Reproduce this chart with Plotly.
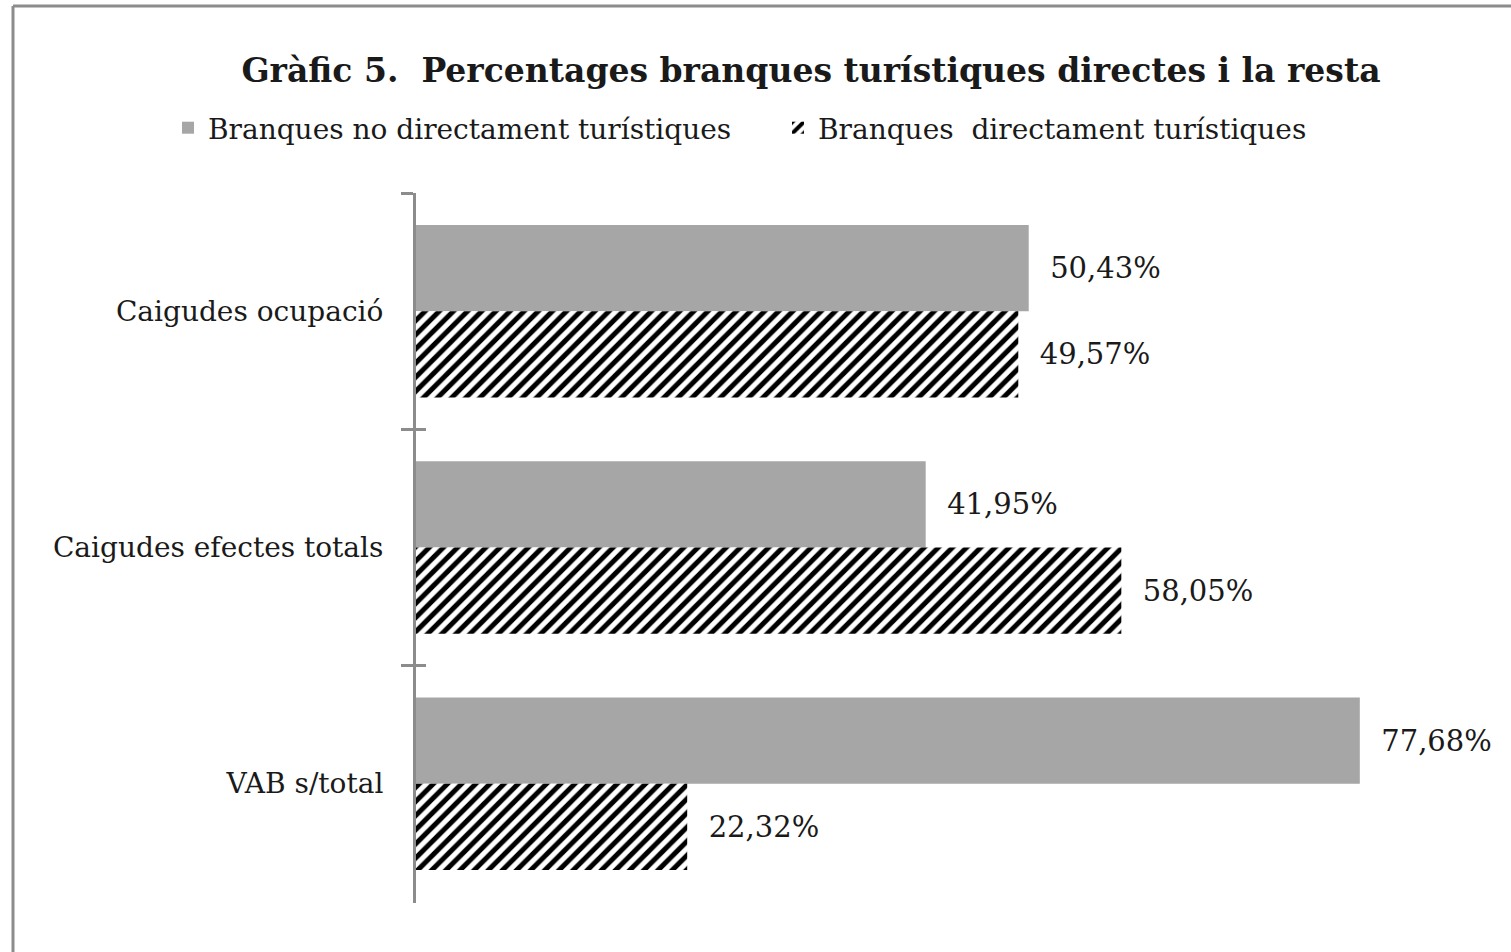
import plotly.graph_objects as go

# data
categories = ["Caigudes ocupació", "Caigudes efectes totals", "VAB s/total"]
no_directes = [50.43, 41.95, 77.68]
directes = [49.57, 58.05, 22.32]
series_names = ["Branques no directament turístiques", "Branques\u00a0 directament turístiques"]

FONT = "DejaVu Serif"
TEXT = "#1a1a1a"
GRAY_BAR = "#a6a6a6"
AXIS_GRAY = "#8c8c8c"

fig = go.Figure()
fig.add_trace(
    go.Bar(
        y=categories,
        x=no_directes,
        name=series_names[0],
        orientation="h",
        marker=dict(color=GRAY_BAR, line=dict(width=0)),
        texttemplate="  %{x:.2f}%",
        textposition="outside",
        textfont=dict(family=FONT, size=29, color=TEXT),
        cliponaxis=False,
        legend="legend",
    )
)
fig.add_trace(
    go.Bar(
        y=categories,
        x=directes,
        name=series_names[1],
        orientation="h",
        marker=dict(
            color="white",
            line=dict(width=0),
            pattern=dict(shape="/", fgcolor="black", fgopacity=1, bgcolor="white",
                         size=10, solidity=0.5),
        ),
        texttemplate="  %{x:.2f}%",
        textposition="outside",
        textfont=dict(family=FONT, size=29, color=TEXT),
        cliponaxis=False,
        legend="legend2",
    )
)
# invisible trace so the overlay axis knows the categories (gives the inward half of the ticks)
fig.add_trace(
    go.Scatter(y=categories, x=[None] * len(categories), yaxis="y2",
               showlegend=False, hoverinfo="skip", mode="markers")
)

legend_style = dict(
    orientation="h",
    xref="container",
    yref="container",
    xanchor="left",
    y=1 - 128 / 952,
    yanchor="middle",
    font=dict(family=FONT, size=28, color=TEXT),
    itemsizing="constant",
    bgcolor="rgba(0,0,0,0)",
)

fig.update_layout(
    width=1511,
    height=952,
    paper_bgcolor="white",
    plot_bgcolor="white",
    separators=",.",
    barmode="group",
    bargap=0.27,
    bargroupgap=0,
    margin=dict(l=416, r=123, t=193, b=49),
    font=dict(family=FONT, size=28, color=TEXT),
    title=dict(
        text="<b>Gràfic 5.\u00a0 Percentages branques turístiques directes i la resta</b>",
        x=811 / 1511,
        xanchor="center",
        y=1 - 70 / 952,
        yanchor="middle",
        font=dict(family=FONT, size=33, color=TEXT),
    ),
    legend=dict(legend_style, x=168 / 1511),
    legend2=dict(legend_style, x=778 / 1511),
    showlegend=True,
)
fig.update_xaxes(range=[0, 80], visible=False)
fig.update_yaxes(
    range=[2.505, -0.5],
    showline=True,
    linecolor=AXIS_GRAY,
    linewidth=3,
    ticks="outside",
    tickson="boundaries",
    ticklen=12,
    tickwidth=3,
    tickcolor=AXIS_GRAY,
    ticklabelstandoff=24,
    tickfont=dict(family=FONT, size=28, color=TEXT),
    showgrid=False,
)
fig.update_layout(
    yaxis2=dict(
        overlaying="y",
        anchor="x",
        side="left",
        range=[2.505, -0.5],
        ticks="inside",
        tickson="boundaries",
        ticklen=10,
        tickwidth=3,
        tickcolor=AXIS_GRAY,
        showticklabels=False,
        showgrid=False,
        showline=False,
    )
)

# frame of the original picture: left and top edges
top = 1 + (193 - 6) / 710
left = (13 - 416) / 972
fig.add_shape(type="line", xref="paper", yref="paper",
              x0=left, x1=left, y0=top, y1=-49 / 710 - 0.01,
              line=dict(color=AXIS_GRAY, width=3))
fig.add_shape(type="line", xref="paper", yref="paper",
              x0=left, x1=(1511 - 416) / 972 + 0.01, y0=top, y1=top,
              line=dict(color=AXIS_GRAY, width=3))

fig.write_html("out.html", config={"displayModeBar": False},
               post_script="document.body.style.margin='0';")
